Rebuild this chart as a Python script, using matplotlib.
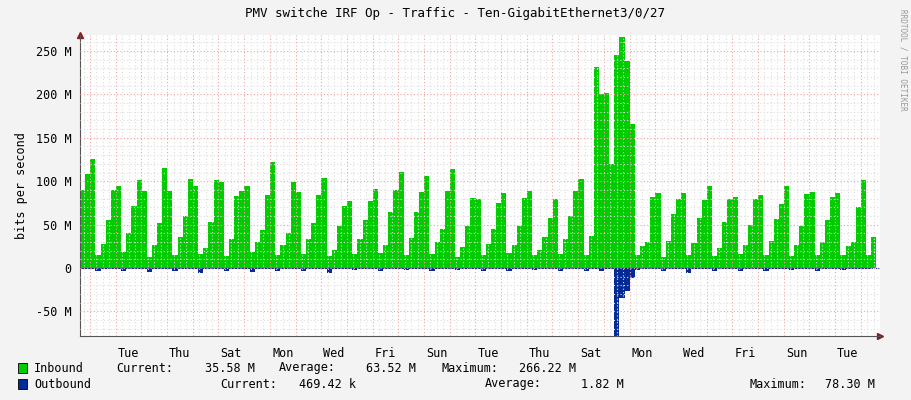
import numpy as np
import matplotlib
matplotlib.use("Agg")
import matplotlib.pyplot as plt

# inbound traffic, Mbit/s, one value per ~4.8 h sample
inbound = [
    90, 108, 126,
    15, 28, 55, 90, 95,
    18, 40, 72, 101, 89,
    13, 27, 52, 115, 89,
    15, 36, 60, 103, 95,
    16, 23, 53, 101, 99,
    14, 33, 83, 89, 95,
    18, 30, 44, 84, 122,
    15, 26, 40, 99, 88,
    16, 33, 52, 84, 104,
    14, 21, 48, 72, 77,
    16, 34, 55, 77, 91,
    17, 27, 65, 90, 111,
    15, 35, 64, 87, 106,
    16, 30, 45, 89, 114,
    13, 24, 48, 81, 80,
    15, 28, 45, 75, 86,
    17, 27, 48, 81, 89,
    15, 21, 36, 58, 79,
    16, 33, 60, 89, 102,
    15, 37, 232, 201, 202,
    120, 245, 266, 238, 166,
    15, 25, 30, 82, 86,
    13, 31, 62, 80, 86,
    15, 29, 58, 78, 95,
    14, 23, 53, 80, 82,
    16, 27, 50, 79, 84,
    15, 31, 56, 74, 95,
    14, 26, 48, 85, 87,
    15, 30, 55, 82, 86,
    15, 25, 30, 70, 101,
    15, 36,
]
# outbound traffic, Mbit/s (drawn below zero)
outbound = [
    1, 1, 1,
    3, 1, 1, 1, 1,
    3, 1, 1, 1, 1,
    5, 1, 1, 1, 1,
    3, 1, 1, 1, 1,
    6, 1, 1, 1, 1,
    4, 1, 1, 1, 1,
    5, 1, 1, 1, 1,
    3, 1, 1, 1, 1,
    4, 1, 1, 1, 1,
    6, 1, 1, 1, 1,
    2, 1, 1, 1, 1,
    3, 1, 1, 1, 1,
    2, 1, 1, 1, 1,
    3, 1, 1, 1, 1,
    2, 1, 1, 1, 1,
    4, 1, 1, 1, 1,
    3, 1, 1, 1, 1,
    2, 1, 1, 1, 1,
    3, 1, 1, 1, 1,
    4, 1, 1, 3, 1,
    1, 78, 34, 27, 12,
    2, 1, 1, 1, 1,
    3, 1, 1, 1, 1,
    6, 1, 1, 1, 1,
    3, 1, 1, 1, 1,
    4, 1, 1, 1, 1,
    3, 1, 1, 1, 1,
    2, 1, 1, 1, 1,
    3, 1, 1, 1, 1,
    2, 1, 1, 1, 1,
    1, 0.5,
]
day_labels = ["Tue", "Thu", "Sat", "Mon", "Wed", "Fri", "Sun", "Tue",
              "Thu", "Sat", "Mon", "Wed", "Fri", "Sun", "Tue"]
y_ticks = [-50, 0, 50, 100, 150, 200, 250]

MONO = "DejaVu Sans Mono"
W, H = 911, 400
fig = plt.figure(figsize=(W / 100, H / 100), dpi=100, facecolor="#F3F3F3")
ax = fig.add_axes([80 / W, 1 - 336 / H, 800 / W, (336 - 35) / H])
ax.set_facecolor("white")

step = 0.2
start = -0.39
edges = start + step * np.arange(len(inbound) + 1)
ax.stairs(inbound, edges, fill=True, color="#00CC00", baseline=0)
ax.stairs([-v for v in outbound], edges, fill=True, color="#002A97", baseline=0)
ax.axhline(0, color="#002A97", lw=0.8, ls=(0, (1, 1)))

ax.set_xlim(start, start + 31)
ax.set_ylim(-78.3, 268.4)

ax.set_xticks(np.arange(0, 31, 1.0))
ax.set_xticks(np.arange(-0.25, 31, 0.25), minor=True)
ax.set_yticks(y_ticks)
ax.set_yticks(np.arange(-70, 270, 10), minor=True)
ax.grid(which="minor", color="#DDDDDD", lw=0.8, ls=(0, (1, 2)))
ax.grid(which="major", color="#F2A0A0", lw=0.8, ls=(0, (1, 2)))
ax.set_axisbelow(False)

ax.set_xticklabels([])
for i, lab in enumerate(day_labels):
    ax.text(1.5 + 2 * i, -0.035, lab, transform=ax.get_xaxis_transform(),
            ha="center", va="top", family=MONO, fontsize=8.5)
ax.set_yticklabels([f"{v} M" if v else "0" for v in y_ticks], family=MONO, fontsize=8.5)
ax.tick_params(which="both", length=0, pad=6)
ax.set_ylabel("bits per second", family=MONO, fontsize=8.5, labelpad=6)

for s in ["top", "right"]:
    ax.spines[s].set_visible(False)
for s in ["left", "bottom"]:
    ax.spines[s].set_color("#555555")
    ax.spines[s].set_linewidth(0.8)
ax.plot([1], [0], transform=ax.transAxes, marker=">", color="#8B1A1A", ms=4, clip_on=False)
ax.plot([0], [1], transform=ax.transAxes, marker="^", color="#8B1A1A", ms=4, clip_on=False)

fig.text(455 / W, 1 - 13 / H, "PMV switche IRF Op - Traffic - Ten-GigabitEthernet3/0/27",
         ha="center", va="center", family=MONO, fontsize=9)
fig.text(903 / W, 1 - 60 / H, "RRDTOOL / TOBI OETIKER", rotation=270, ha="center",
         va="center", family=MONO, fontsize=5.5, color="#999999")


def legend_row(y, color, items):
    fig.patches.append(plt.Rectangle((18 / W, 1 - (y + 5) / H), 9 / W, 10 / H,
                                     transform=fig.transFigure, facecolor=color,
                                     edgecolor="black", lw=0.6))
    for x, t in items:
        fig.text(x / W, 1 - y / H, t, ha="left", va="center", family=MONO, fontsize=8.5)


legend_row(368, "#00CC00", [(34, "Inbound"), (116, "Current:"), (205, "35.58 M"),
                            (279, "Average:"), (366, "63.52 M"), (441, "Maximum:"),
                            (519, "266.22 M")])
legend_row(384, "#002A97", [(34, "Outbound"), (220, "Current:"), (299, "469.42 k"),
                            (485, "Average:"), (581, "1.82 M"), (750, "Maximum:"),
                            (825, "78.30 M")])

fig.savefig("out.png", dpi=100, facecolor=fig.get_facecolor())
